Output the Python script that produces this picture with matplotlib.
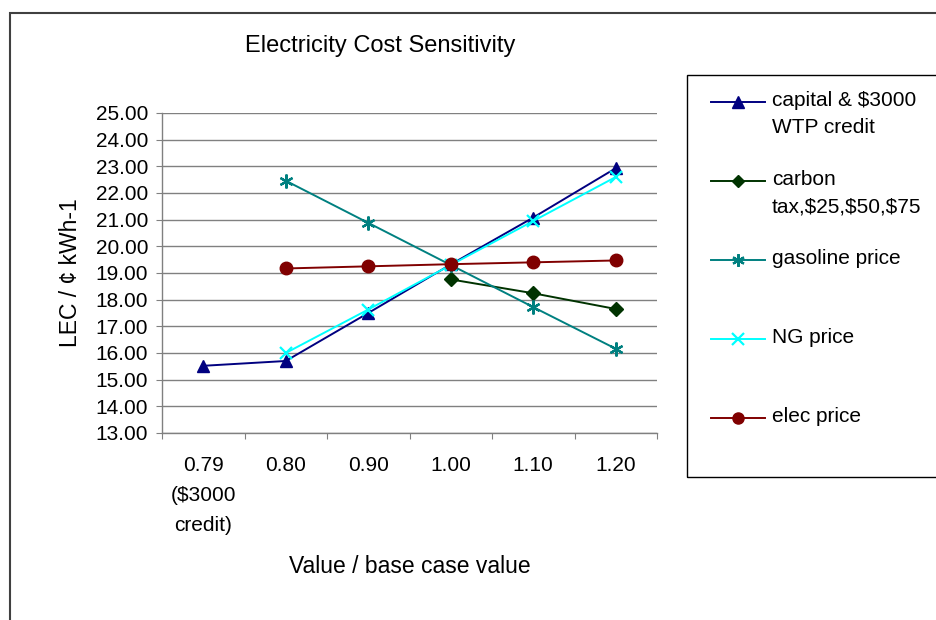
import numpy as np
import matplotlib
matplotlib.use('Agg')
import matplotlib.pyplot as plt
from matplotlib.patches import Rectangle
from matplotlib.lines import Line2D

plt.rcParams['font.family'] = ['Liberation Sans', 'DejaVu Sans']

# data
categories = ['0.79\n($3000\ncredit)', '0.80', '0.90', '1.00', '1.10', '1.20']
capital = [15.52, 15.70, 17.50, 19.32, 21.08, 22.93]
carbon_tax = [np.nan, np.nan, np.nan, 18.76, 18.24, 17.65]
gasoline = [np.nan, 22.46, 20.88, 19.30, 17.72, 16.16]
ng_price = [np.nan, 16.00, 17.63, 19.30, 20.95, 22.60]
elec_price = [np.nan, 19.17, 19.25, 19.33, 19.40, 19.47]

series_names = ['capital & $3000\nWTP credit', 'carbon\ntax,$25,$50,$75',
                'gasoline price', 'NG price', 'elec price']
series_values = [capital, carbon_tax, gasoline, ng_price, elec_price]
colors = ['#000080', '#003300', '#008080', '#00FFFF', '#800000']
markers = ['^', 'D', (6, 2, 0), 'x', 'o']
msizes = [9, 7, 10, 9, 9]

W, H = 937, 620
fig = plt.figure(figsize=(W / 100, H / 100), dpi=100)

def fx(px):
    return px / W

def fy(py):
    return 1 - py / H

# outer chart frame (runs off the right/bottom edge)
fig.add_artist(Rectangle((fx(10), fy(700)), fx(1000), fy(13) - fy(700),
                         transform=fig.transFigure, fill=False,
                         edgecolor='#404040', lw=1.5, clip_on=False))

ax = fig.add_axes([fx(162), fy(433), fx(657 - 162), fy(113) - fy(433)])
x = np.arange(len(categories))
for vals, c, m, ms in zip(series_values, colors, markers, msizes):
    ax.plot(x, vals, color=c, marker=m, markersize=ms, lw=1.4,
            markeredgewidth=1.6 if m in ('x', (6, 2, 0)) else 1,
            markerfacecolor=c, markeredgecolor=c, zorder=3)

ax.set_ylim(13, 25)
ax.set_yticks(np.arange(13, 26, 1))
ax.set_yticklabels([f'{v:.2f}' for v in np.arange(13, 26, 1)])
ax.set_xlim(-0.5, 5.5)
ax.set_xticks(np.arange(-0.5, 6, 1))
ax.set_xticklabels([])
ax.set_xticks(x, minor=True)
ax.set_xticklabels(categories, minor=True, linespacing=1.75)
ax.tick_params(axis='x', which='minor', length=0, pad=16.5, labelsize=15)
ax.tick_params(axis='x', which='major', length=4, color='#808080', direction='out')
ax.tick_params(axis='y', length=4, color='#808080', direction='out', labelsize=15, pad=6)
ax.grid(axis='y', color='#808080', lw=1)
for s in ['top', 'right']:
    ax.spines[s].set_visible(False)
for s in ['left', 'bottom']:
    ax.spines[s].set_color('#808080')
    ax.spines[s].set_linewidth(1)

ax.set_ylabel('LEC / ¢ kWh-1', fontsize=16.5, labelpad=10)
ax.set_xlabel('Value / base case value', fontsize=16.5, labelpad=14)

fig.text(fx(380), fy(46), 'Electricity Cost Sensitivity', fontsize=17,
         ha='center', va='center')

# legend box drawn like the spreadsheet one: marker on the first text line
fig.add_artist(Rectangle((fx(687), fy(477)), fx(400), fy(75) - fy(477),
                         transform=fig.transFigure, fill=False,
                         edgecolor='black', lw=1, clip_on=False))
entry_y = [102, 181, 260, 339, 418]
for ey, name, c, m, ms in zip(entry_y, series_names, colors, markers, msizes):
    fig.add_artist(Line2D([fx(711), fx(765)], [fy(ey), fy(ey)], color=c, lw=1.4,
                          transform=fig.transFigure))
    fig.add_artist(Line2D([fx(738)], [fy(ey)], color=c, marker=m, markersize=ms - 1,
                          markerfacecolor=c, markeredgecolor=c,
                          markeredgewidth=1.6 if m in ('x', (6, 2, 0)) else 1,
                          transform=fig.transFigure))
    fig.text(fx(772), fy(ey - 11), name, fontsize=15, ha='left', va='top',
             linespacing=1.55)

fig.savefig('out.png', dpi=100)
